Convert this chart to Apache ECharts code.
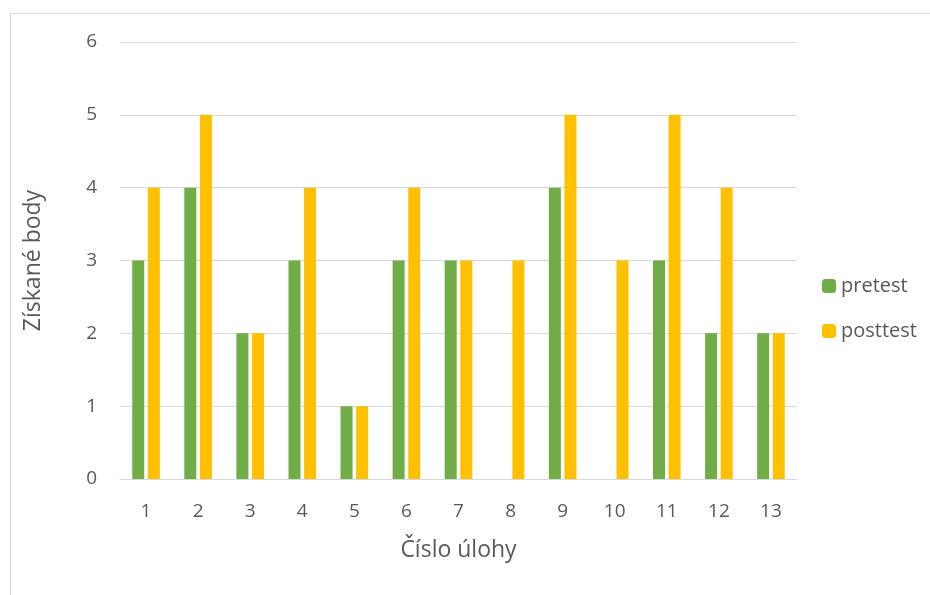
<!DOCTYPE html>
<html>
<head>
<meta charset="utf-8">
<script src="https://cdn.jsdelivr.net/npm/echarts@6/dist/echarts.min.js"></script>
<style>
  html, body { margin: 0; padding: 0; background: #fff; }
  #chart { width: 930px; height: 595px; }
</style>
</head>
<body>
<div id="chart"></div>
<script>
// Task numbers and points scored before / after
const categories = ['1', '2', '3', '4', '5', '6', '7', '8', '9', '10', '11', '12', '13'];
const pretest = [3, 4, 2, 3, 1, 3, 3, 0, 4, 0, 3, 2, 2];
const posttest = [4, 5, 2, 4, 1, 4, 3, 3, 5, 3, 5, 4, 2];
const yTicks = [0, 1, 2, 3, 4, 5, 6];

const textColor = '#595959';
const fontFamily = '"Open Sans", "Noto Sans", sans-serif';

const chart = echarts.init(document.getElementById('chart'));
chart.setOption({
  animation: false,
  textStyle: { fontFamily: fontFamily, color: textColor },
  graphic: [{
    type: 'rect',
    shape: { x: 10.5, y: 13.5, width: 940, height: 600 },
    style: { fill: 'none', stroke: '#d9d9d9', lineWidth: 1 },
    silent: true
  }],
  grid: { left: 120, right: 133, top: 42, bottom: 116 },
  legend: {
    orient: 'vertical',
    left: 817,
    top: 271,
    itemWidth: 14,
    itemHeight: 14,
    itemGap: 25,
    textStyle: { fontSize: 20, color: textColor, fontFamily: fontFamily },
    data: ['pretest', 'posttest']
  },
  xAxis: {
    type: 'category',
    data: categories,
    name: 'Číslo úlohy',
    nameLocation: 'middle',
    nameGap: 60,
    nameTextStyle: { fontSize: 23, color: textColor, fontFamily: fontFamily },
    axisLine: { lineStyle: { color: '#d9d9d9', width: 1 } },
    axisTick: { show: false },
    axisLabel: { fontSize: 19, color: textColor, margin: 23, fontFamily: fontFamily }
  },
  yAxis: {
    type: 'value',
    min: yTicks[0],
    max: yTicks[yTicks.length - 1],
    interval: 1,
    name: 'Získané body',
    nameLocation: 'middle',
    nameGap: 75,
    nameTextStyle: { fontSize: 23, color: textColor, fontFamily: fontFamily },
    axisLine: { show: false },
    axisTick: { show: false },
    axisLabel: { fontSize: 19, color: textColor, margin: 23, fontFamily: fontFamily },
    splitLine: { lineStyle: { color: '#d9d9d9', width: 1 } }
  },
  series: [
    {
      name: 'pretest',
      type: 'bar',
      data: pretest,
      barWidth: 12,
      barGap: '30%',
      itemStyle: { color: '#70AD47' }
    },
    {
      name: 'posttest',
      type: 'bar',
      data: posttest,
      barWidth: 12,
      itemStyle: { color: '#FFC000' }
    }
  ]
});
</script>
</body>
</html>
